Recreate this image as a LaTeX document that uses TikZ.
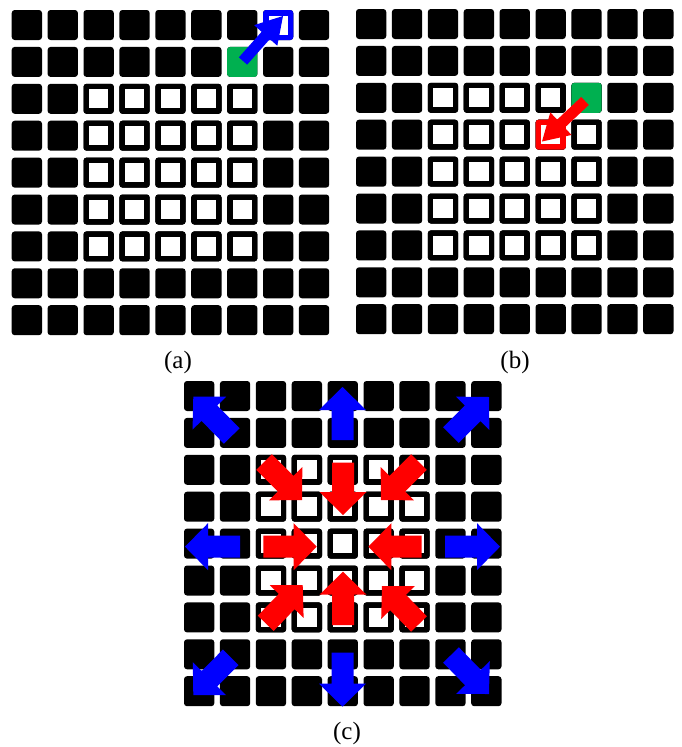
\documentclass[tikz,border=0pt]{standalone}
\usepackage{fontspec}
\setmainfont{Liberation Serif}
\usetikzlibrary{calc}

\begin{document}
\begin{tikzpicture}[x=1pt, y=-1pt,
    panelLabel/.style={font=\fontsize{25}{30}\selectfont, inner sep=0pt}]
    \definecolor{cellGreen}{HTML}{00B050}
    \definecolor{moveBlue}{HTML}{0000FF}
    \definecolor{moveRed}{HTML}{FF0000}

    \def\pitchX{35.9}
    \def\pitchY{36.9}
    \def\cellW{30.3}
    \def\cellH{30}
    \def\rimW{5.5}

    % Cell (column, row) of a board, full or open
    \def\gridCell#1#2#3{\fill[#3, rounded corners=3pt] ({#1*\pitchX},{#2*\pitchY}) rectangle ++(\cellW,\cellH);}
    \def\openCell#1#2#3{\gridCell{#1}{#2}{#3}
        \fill[white] ({#1*\pitchX+\rimW},{#2*\pitchY+\rimW}) rectangle ++({\cellW-2*\rimW},{\cellH-2*\rimW});}

    % 9x9 board with a 5x5 open centre
    \def\drawBoard{%
        \foreach \c in {0,...,8}
            \foreach \r in {0,...,8}
                {\gridCell{\c}{\r}{black}}
        \foreach \c in {2,...,6}
            \foreach \r in {2,...,6}
                {\openCell{\c}{\r}{black}}
    }

    % Block arrow: colour, tail, tip, half shaft, half head, head length
    \def\blockArrow#1#2#3#4#5#6{%
        \coordinate (headBase) at ($(#3)!#6!(#2)$);
        \fill[#1] ($(#2)!#4!90:(#3)$) -- ($(headBase)!#4!90:(#3)$) -- ($(headBase)!#5!90:(#3)$) -- (#3)
            -- ($(headBase)!#5!-90:(#3)$) -- ($(headBase)!#4!-90:(#3)$) -- ($(#2)!#4!-90:(#3)$) -- cycle;
    }

    \useasboundingbox (0,0) rectangle (682,747);

    % Board (a)
    \begin{scope}[shift={(11.7,10)}]
        \drawBoard
        \gridCell{6}{1}{cellGreen}
        \openCell{7}{0}{moveBlue}
    \end{scope}
    \coordinate (tailA) at (243,61);
    \coordinate (tipA) at (283,16);
    \blockArrow{moveBlue}{tailA}{tipA}{5.5pt}{15.5pt}{26pt}

    % Board (b)
    \begin{scope}[shift={(356,9)}]
        \drawBoard
        \gridCell{6}{2}{cellGreen}
        \openCell{5}{3}{moveRed}
    \end{scope}
    \coordinate (tailB) at (585,101);
    \coordinate (tipB) at (542,141.5);
    \blockArrow{moveRed}{tailB}{tipB}{5.5pt}{15.5pt}{26pt}

    % Board (c)
    \begin{scope}[shift={(184,381)}]
        \drawBoard
    \end{scope}

    % Outward moves
    \foreach \tx/\ty/\px/\py [count=\i] in {342.5/440/342.5/387, 342.5/652.7/342.5/706.7,
            240/546.7/185/546.7, 445/546.7/500/546.7, 231.7/436/193.3/396.7,
            230.7/657.3/193.3/695, 451/435/489/397, 451/655/489/694}
    {
        \coordinate (outTail\i) at (\tx,\ty);
        \coordinate (outTip\i) at (\px,\py);
        \blockArrow{moveBlue}{outTail\i}{outTip\i}{11pt}{23.5pt}{23pt}
    }

    % Inward moves
    \foreach \tx/\ty/\px/\py [count=\i] in {343/462.7/343/515, 343/625/343/571.7,
            263.3/546.7/316.7/546.7, 421.7/546.7/368.3/546.7, 264/462/302/500,
            265.7/623.3/302.7/585, 419/462/381/500, 419/624/382/586}
    {
        \coordinate (inTail\i) at (\tx,\ty);
        \coordinate (inTip\i) at (\px,\py);
        \blockArrow{moveRed}{inTail\i}{inTip\i}{11pt}{23.5pt}{23pt}
    }

    % Panel labels
    \node[panelLabel] (labelA) at (178,362) {(a)};
    \node[panelLabel] (labelB) at (515,362) {(b)};
    \node[panelLabel] (labelC) at (347,733) {(c)};
\end{tikzpicture}
\end{document}
